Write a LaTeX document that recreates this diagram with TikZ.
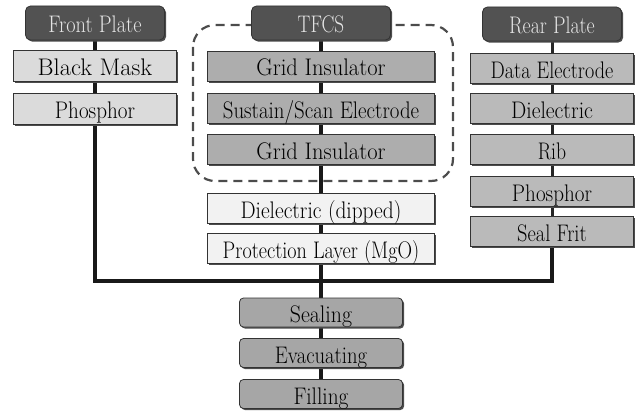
\documentclass[tikz,border=0pt]{standalone}
\usepackage{fontspec}
\usepackage{graphicx}
\usetikzlibrary{shadows}
\newcommand{\hs}[2]{\scalebox{#1}[1]{#2}}
\pgfdeclarelayer{background}
\pgfsetlayers{background,main}
\begin{document}
\begin{tikzpicture}[x=1pt,y=-1pt,
  base/.style={draw=black!80, line width=0.8pt, inner sep=0pt,
    text height=20pt, text depth=0pt,
    font=\rmfamily\fontsize{24}{24}\selectfont,
    drop shadow={shadow xshift=1.6pt, shadow yshift=-1.6pt, fill=black!70, opacity=1}},
  titlebox/.style={base, rounded corners=5pt, fill=black!68, text=black!10,
    minimum width=139pt, minimum height=34pt},
  frontbox/.style={base, fill=black!14, minimum width=163pt, minimum height=31pt},
  midbox/.style={base, fill=black!32, minimum width=227pt, minimum height=30pt},
  whitebox/.style={base, fill=black!5, minimum width=227pt, minimum height=30pt},
  rearbox/.style={base, fill=black!27, minimum width=163pt, minimum height=30pt},
  procbox/.style={base, rounded corners=4pt, fill=black!35, minimum width=163pt, minimum height=29pt},
  conn/.style={draw=black!90, line width=4pt},
  thinconn/.style={draw=black!85, line width=3pt},
  groupbox/.style={draw=black!70, line width=2.2pt, dash pattern=on 9pt off 6pt, rounded corners=22pt}
]
\useasboundingbox (0,0) rectangle (643,412);

% top titles
\node[titlebox] (fp) at (95,23) {\hs{0.85}{Front Plate}};
\node[titlebox] (tf) at (321,23) {\hs{0.8}{TFCS}};
\node[titlebox] (rp) at (552,24) {\hs{0.83}{Rear Plate}};

% front column
\node[frontbox] (bm) at (95,65.5) {\hs{1.02}{Black Mask}};
\node[frontbox] (ph1) at (95,108.5) {\hs{0.88}{Phosphor}};

% central column
\node[midbox] (g1) at (321,66) {\hs{0.94}{Grid Insulator}};
\node[midbox] (ss) at (321,108) {\hs{0.87}{Sustain/Scan Electrode}};
\node[midbox] (g2) at (321,149.5) {\hs{0.94}{Grid Insulator}};
\node[whitebox] (dd) at (321,208) {\hs{0.89}{Dielectric (dipped)}};
\node[whitebox] (pl) at (321,248) {\hs{0.84}{Protection Layer (MgO)}};

% rear column
\node[rearbox] (de) at (552,68) {\hs{0.84}{Data Electrode}};
\node[rearbox] (di) at (552,108) {\hs{0.9}{Dielectric}};
\node[rearbox] (rib) at (552,149) {\hs{0.82}{Rib}};
\node[rearbox] (ph2) at (552,191) {\hs{0.88}{Phosphor}};
\node[rearbox] (sf) at (552,231.5) {\hs{0.85}{Seal Frit}};

% process
\node[procbox] (se) at (321,312.5) {\hs{0.91}{Sealing}};
\node[procbox] (ev) at (321,353) {\hs{0.86}{Evacuating}};
\node[procbox] (fi) at (321,394) {\hs{0.89}{Filling}};

\coordinate (j) at (321,281);

\begin{pgfonlayer}{background}
  % front connectors
  \draw[conn] (fp.south) -- (bm.north);
  \draw[conn] (bm.south) -- (ph1.north);
  \draw[conn, line join=miter] (ph1.south) -- (ph1.south |- j) -- (sf.south |- j) -- (sf.south);
  % rear connectors
  \draw[thinconn] (rp.south) -- (de.north);
  \draw[thinconn] (de.south) -- (di.north);
  \draw[thinconn] (di.south) -- (rib.north);
  \draw[thinconn] (rib.south) -- (ph2.north);
  \draw[thinconn] (ph2.south) -- (sf.north);
  % group box
  \draw[groupbox] (193,25) rectangle (453,181);
  % central connectors
  \draw[conn] (tf.south) -- (g1.north);
  \draw[conn] (g1.south) -- (ss.north);
  \draw[conn] (ss.south) -- (g2.north);
  \draw[conn] (g2.south) -- (dd.north);
  \draw[conn] (dd.south) -- (pl.north);
  \draw[conn] (pl.south) -- (se.north);
  \draw[conn] (se.south) -- (ev.north);
  \draw[conn] (ev.south) -- (fi.north);
\end{pgfonlayer}
\end{tikzpicture}
\end{document}
